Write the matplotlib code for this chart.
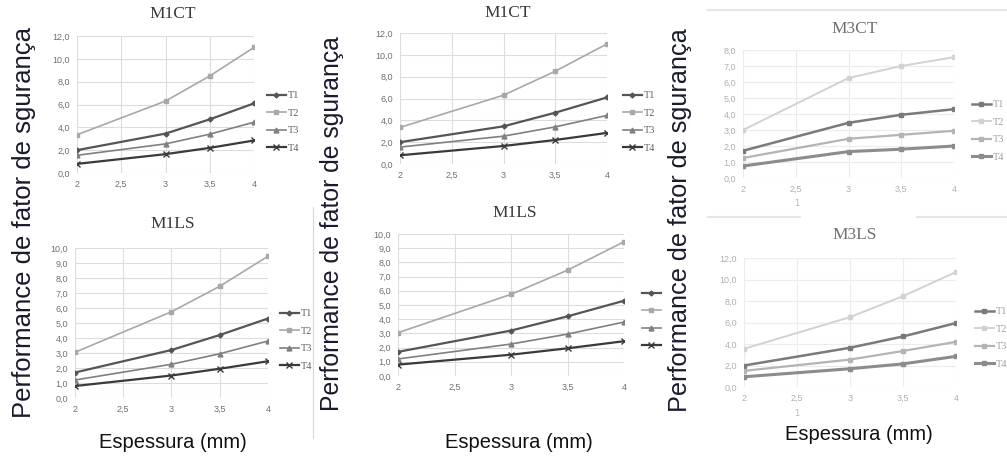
import numpy as np
import matplotlib
matplotlib.use('Agg')
import matplotlib.pyplot as plt
from matplotlib.ticker import FuncFormatter
from matplotlib.lines import Line2D

W, H = 1007, 459

espessura = [2, 3, 3.5, 4]
series_names = ['T1', 'T2', 'T3', 'T4']

m1ct_t1 = [2.0, 3.45, 4.7, 6.1]
m1ct_t2 = [3.35, 6.3, 8.5, 11.0]
m1ct_t3 = [1.55, 2.55, 3.4, 4.45]
m1ct_t4 = [0.8, 1.65, 2.2, 2.85]

m1ls_t1 = [1.7, 3.2, 4.2, 5.3]
m1ls_t2 = [3.05, 5.75, 7.45, 9.45]
m1ls_t3 = [1.2, 2.25, 2.95, 3.8]
m1ls_t4 = [0.8, 1.5, 1.95, 2.45]

m3ct_t1 = [1.7, 3.45, 3.95, 4.3]
m3ct_t2 = [3.0, 6.25, 7.0, 7.55]
m3ct_t3 = [1.25, 2.45, 2.7, 2.95]
m3ct_t4 = [0.75, 1.65, 1.8, 2.0]

m3ls_t1 = [2.0, 3.65, 4.7, 5.95]
m3ls_t2 = [3.55, 6.5, 8.45, 10.7]
m3ls_t3 = [1.5, 2.55, 3.35, 4.2]
m3ls_t4 = [0.95, 1.7, 2.15, 2.85]

ylabel_text = 'Performance de fator de sgurança'
xlabel_text = 'Espessura (mm)'

# line styles: colour, marker, marker size, line width
dark_styles = [('#555555', 'D', 2.5, 1.6), ('#a8a8a8', 's', 3.5, 1.2),
               ('#808080', '^', 3.5, 1.2), ('#3a3a3a', 'x', 4.5, 1.6)]
light_styles = [('#7a7a7a', 's', 3.5, 1.8), ('#d2d2d2', 's', 3.5, 1.4),
                ('#b4b4b4', 's', 3.5, 1.6), ('#8c8c8c', 's', 3.5, 2.2)]

narrow = ['Liberation Sans Narrow', 'Liberation Sans', 'DejaVu Sans']


def comma(v, pos):
    if abs(v - round(v)) < 1e-9:
        return '%d' % round(v)
    return ('%.1f' % v).replace('.', ',')


def comma1(v, pos):
    return ('%.1f' % v).replace('.', ',')


def px_axes(fig, x0, x1, ytop, ybot):
    return fig.add_axes([x0 / W, 1 - ybot / H, (x1 - x0) / W, (ybot - ytop) / H])


def draw_panel(fig, box, data, ymax, ystep, styles, tick_color, grid_color,
               leg_xy, leg_labels, leg_color, leg_spacing):
    x0, x1, ytop, ybot = box
    ax = px_axes(fig, x0, x1, ytop, ybot)
    handles = []
    for vals, (col, mk, ms, lw) in zip(data, styles):
        ln, = ax.plot(espessura, vals, color=col, marker=mk, markersize=ms, lw=lw,
                      markeredgewidth=1.0, zorder=3)
        handles.append(ln)
    ax.set_xlim(2, 4)
    ax.set_ylim(0, ymax)
    ax.set_xticks([2, 2.5, 3, 3.5, 4])
    ax.set_yticks(np.arange(0, ymax + 0.01, ystep))
    ax.xaxis.set_major_formatter(FuncFormatter(comma))
    ax.yaxis.set_major_formatter(FuncFormatter(comma1))
    ax.grid(True, color=grid_color, lw=0.8)
    ax.set_axisbelow(True)
    for s in ax.spines.values():
        s.set_visible(False)
    ax.tick_params(length=0, labelsize=6.5, colors=tick_color, pad=5)
    for lab in ax.get_xticklabels() + ax.get_yticklabels():
        lab.set_family(narrow)
    ax.set_facecolor('none')
    lx, ly = leg_xy
    anchor = ((lx - x0) / (x1 - x0), (ybot - ly) / (ybot - ytop))
    leg = ax.legend(handles, leg_labels, loc='center left', bbox_to_anchor=anchor,
                    frameon=False, fontsize=7.5, handlelength=1.8, handletextpad=0.2,
                    labelspacing=leg_spacing, borderpad=0, borderaxespad=0)
    for t in leg.get_texts():
        t.set_color(leg_color)
        t.set_family(['Liberation Serif', 'DejaVu Serif'])
    return ax


fig = plt.figure(figsize=(W / 100, H / 100), dpi=100)
fig.patch.set_facecolor('white')

# column 1
draw_panel(fig, (77, 254, 36, 173), [m1ct_t1, m1ct_t2, m1ct_t3, m1ct_t4], 12, 2,
           dark_styles, '#707070', '#dcdcdc', (267, 122), series_names, '#606060', 0.8)
draw_panel(fig, (75, 268, 248, 398), [m1ls_t1, m1ls_t2, m1ls_t3, m1ls_t4], 10, 1,
           dark_styles, '#707070', '#dcdcdc', (280, 340), series_names, '#606060', 0.8)

# column 2
draw_panel(fig, (400, 607, 33, 164), [m1ct_t1, m1ct_t2, m1ct_t3, m1ct_t4], 12, 2,
           dark_styles, '#707070', '#dcdcdc', (623, 122), series_names, '#606060', 0.8)
draw_panel(fig, (398, 624, 234, 376), [m1ls_t1, m1ls_t2, m1ls_t3, m1ls_t4], 10, 1,
           dark_styles, '#707070', '#dcdcdc', (642, 320), ['', '', '', ''], '#606060', 0.8)

# column 3
draw_panel(fig, (743, 954, 50, 178), [m3ct_t1, m3ct_t2, m3ct_t3, m3ct_t4], 8, 1,
           light_styles, '#b0b0b0', '#ececec', (972, 131), series_names, '#a0a0a0', 0.8)
draw_panel(fig, (744, 956, 258, 387), [m3ls_t1, m3ls_t2, m3ls_t3, m3ls_t4], 12, 2,
           light_styles, '#b0b0b0', '#ececec', (975, 338), series_names, '#a0a0a0', 0.8)

# panel titles
serif = ['Liberation Serif', 'DejaVu Serif']
titles = [('M1CT', 173, 14, '#383838'), ('M1LS', 173, 224, '#383838'),
          ('M1CT', 508, 13, '#383838'), ('M1LS', 515, 213, '#383838'),
          ('M3CT', 855, 29, '#707070'), ('M3LS', 855, 235, '#707070')]
for txt, x, y, c in titles:
    fig.text(x / W, 1 - y / H, txt, ha='center', va='center', fontsize=12.5,
             family=serif, color=c)

# big axis labels
for x, y, fs in [(24, 223, 18.5), (332, 224, 17.8), (680, 220, 18.2)]:
    fig.text(x / W, 1 - y / H, ylabel_text, rotation=90, ha='center', va='center',
             fontsize=fs, family=['Liberation Sans', 'DejaVu Sans'], color='#1a1a2e')
for x, y in [(173, 443), (519, 443), (859, 435)]:
    fig.text(x / W, 1 - y / H, xlabel_text, ha='center', va='center', fontsize=14.5,
             family=['Liberation Sans', 'DejaVu Sans'], color='#111111')

# stray marks of the pasted screenshots
fig.add_artist(Line2D([313 / W, 313 / W], [1 - 207 / H, 1 - 438 / H], color='#d8d8d8', lw=0.8))
fig.add_artist(Line2D([708 / W, 1], [1 - 10 / H, 1 - 10 / H], color='#e6e6e6', lw=1.5))
fig.add_artist(Line2D([708 / W, 800 / W], [1 - 217 / H, 1 - 217 / H], color='#e6e6e6', lw=1.5))
fig.add_artist(Line2D([917 / W, 1], [1 - 217 / H, 1 - 217 / H], color='#e6e6e6', lw=1.5))
for y in [204, 413]:
    fig.text(797 / W, 1 - y / H, '1', ha='center', va='center', fontsize=6,
             color='#b8b8b8')

fig.savefig('out.png', dpi=100)
